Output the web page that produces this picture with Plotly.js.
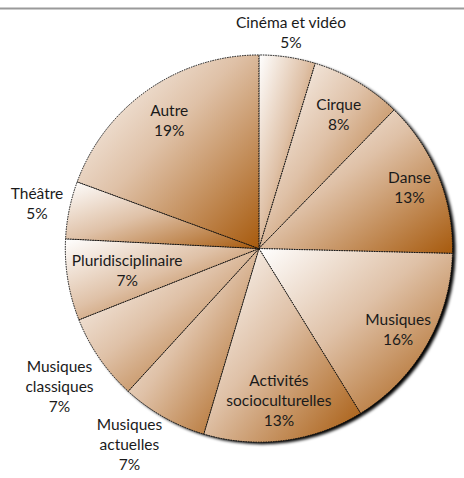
<!DOCTYPE html>
<html>
<head>
<meta charset="utf-8">
<script src="https://cdn.plot.ly/plotly-3.0.1.min.js"></script>
<style>
  body { margin: 0; background: #fff; }
  #chart { width: 464px; height: 478px; }
</style>
</head>
<body>
<div id="chart"></div>
<script>
// Disciplines, clockwise from 12 o'clock
const labels = ['Cinéma et vidéo', 'Cirque', 'Danse', 'Musiques', 'Activités<br>socioculturelles',
    'Musiques<br>actuelles', 'Musiques<br>classiques', 'Pluridisciplinaire', 'Théâtre', 'Autre'];
const shares = [4.7, 7.6, 13.1, 15.8, 13.4, 7.2, 7.2, 6.8, 4.8, 19.4];
const labelPlacement = ['outside', 'inside', 'inside', 'inside', 'inside',
    'outside', 'outside', 'inside', 'outside', 'inside'];

// where each label sits: fraction of the radius, and a small turn (deg) off the slice middle
const labelRadius = [1.13, 0.81, 0.84, 0.83, 0.79, 1.21, 1.25, 0.69, 1.17, 0.81];
const labelTurn = [0, 0, 0, 0, 0, 4, 0, 0, 0, 0];

const trace = {
    type: 'pie',
    labels: labels,
    values: shares,
    sort: false,
    direction: 'clockwise',
    rotation: 0,
    textposition: labelPlacement,
    texttemplate: '%{label}<br>%{percent:.0%}',
    insidetextorientation: 'horizontal',
    textfont: { family: 'Lato, "Open Sans", sans-serif', size: 15.5, color: '#1a1a1a' },
    marker: {
        colors: labels.map(() => '#d6ae8c'),
        line: { color: '#111', width: 1 }
    },
    domain: { x: [0.136, 0.980], y: [0.075, 0.885] },
    hoverinfo: 'none',
    showlegend: false
};

const layout = {
    width: 464,
    height: 478,
    margin: { l: 0, r: 0, t: 0, b: 0 },
    paper_bgcolor: '#fff',
    showlegend: false,
    uniformtext: { mode: 'show', minsize: 15.5 },
    shapes: [{
        type: 'line', xref: 'paper', yref: 'paper',
        x0: 0, x1: 1, y0: 0.982, y1: 0.982,
        line: { color: '#9a9a9a', width: 2 }
    }]
};

Plotly.newPlot('chart', [trace], layout, { staticPlot: true }).then(function (gd) {
    const svg = gd.querySelector('svg.main-svg');
    const ns = 'http://www.w3.org/2000/svg';
    let defs = svg.querySelector('defs');
    if (!defs) { defs = document.createElementNS(ns, 'defs'); svg.insertBefore(defs, svg.firstChild); }
    defs.insertAdjacentHTML('beforeend',
        '<linearGradient id="brownGrad" x1="0" y1="0" x2="1" y2="1">' +
        '<stop offset="0" stop-color="#ffffff"/>' +
        '<stop offset="0.45" stop-color="#dfc1a7"/>' +
        '<stop offset="1" stop-color="#a75a0d"/>' +
        '</linearGradient>' +
        '<filter id="pieShadow" x="-10%" y="-10%" width="130%" height="130%">' +
        '<feGaussianBlur stdDeviation="1.4"/></filter>');

    const traceGroup = gd.querySelector('.pielayer .trace');
    const slices = traceGroup.querySelectorAll('g.slice');

    // shadow behind the pie (offset copy of the slices)
    const shadowGroup = document.createElementNS(ns, 'g');
    shadowGroup.setAttribute('filter', 'url(#pieShadow)');
    shadowGroup.setAttribute('transform', 'translate(3,2)');

    slices.forEach(function (sl) {
        const p = sl.querySelector('path.surface');
        const s = p.cloneNode();
        s.style.fill = '#000';
        s.style.stroke = 'none';
        shadowGroup.appendChild(s);
        // gradient fill + dotted edges
        p.style.fill = 'url(#brownGrad)';
        p.style.strokeDasharray = '1.5,1';
    });
    traceGroup.insertBefore(shadowGroup, traceGroup.firstChild);

    // move labels along the slice middle, like the office chart does
    const cd = gd.calcdata[0];
    const cx = cd[0].cx, cy = cd[0].cy, r = cd[0].r;
    slices.forEach(function (sl, i) {
        const txt = sl.querySelector('text.slicetext');
        if (!txt) return;
        const pt = cd[i];
        const len = Math.hypot(pt.pxmid[0], pt.pxmid[1]);
        const a = labelTurn[i] * Math.PI / 180;
        const mx = pt.pxmid[0] / len, my = pt.pxmid[1] / len;
        const ux = mx * Math.cos(a) - my * Math.sin(a);
        const uy = mx * Math.sin(a) + my * Math.cos(a);
        const tx = cx + ux * r * labelRadius[i];
        const ty = cy + uy * r * labelRadius[i];
        const box = txt.getBoundingClientRect();
        const dx = tx - (box.left + box.width / 2);
        const dy = ty - (box.top + box.height / 2);
        txt.setAttribute('transform', 'translate(' + dx + ',' + dy + ') ' + (txt.getAttribute('transform') || ''));
    });
});
</script>
</body>
</html>
